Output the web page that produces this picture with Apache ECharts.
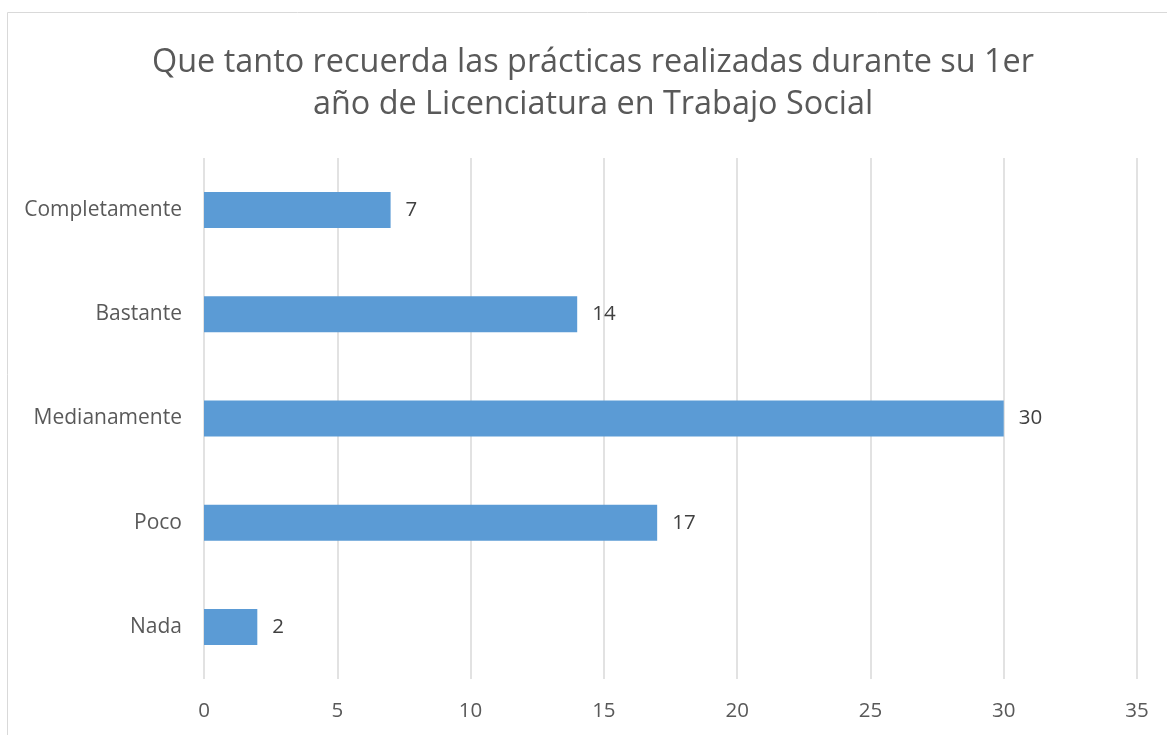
<!DOCTYPE html>
<html>
<head>
<meta charset="utf-8">
<script src="https://cdn.jsdelivr.net/npm/echarts@6/dist/echarts.min.js"></script>
<style>
html, body { margin: 0; padding: 0; background: #fff; }
#main { width: 1167px; height: 735px; }
</style>
</head>
<body>
<div id="main"></div>
<script>
// datos del gráfico
var categorias = ['Nada', 'Poco', 'Medianamente', 'Bastante', 'Completamente'];
var valores = [2, 17, 30, 14, 7];
var ticks = [0, 5, 10, 15, 20, 25, 30, 35];

var fuente = 'Open Sans';
var myChart = echarts.init(document.getElementById('main'));

myChart.setOption({
	animation: false,
	title: {
		text: 'Que tanto recuerda las prácticas realizadas durante su 1er\naño de Licenciatura en Trabajo Social',
		left: 588,
		textAlign: 'center',
		top: 37,
		textStyle: {
			fontFamily: fuente,
			fontSize: 32.4,
			fontWeight: 'normal',
			color: '#595959',
			lineHeight: 42
		}
	},
	graphic: [{
		type: 'rect',
		shape: { x: 7.5, y: 12.5, width: 1200, height: 800 },
		style: { fill: 'none', stroke: '#d9d9d9', lineWidth: 1 },
		silent: true
	}],
	grid: { left: 204, right: 30, top: 158, bottom: 56, containLabel: false },
	xAxis: {
		type: 'value',
		min: ticks[0],
		max: ticks[ticks.length - 1],
		interval: 5,
		axisLine: { show: false },
		axisTick: { show: false },
		splitLine: { lineStyle: { color: '#d9d9d9', width: 1.5 } },
		axisLabel: { fontFamily: fuente, fontSize: 20.5, color: '#595959', margin: 22 }
	},
	yAxis: {
		type: 'category',
		data: categorias,
		axisLine: { show: false },
		axisTick: { show: false },
		axisLabel: { fontFamily: fuente, fontSize: 21, color: '#595959', margin: 22 }
	},
	series: [{
		type: 'bar',
		data: valores,
		barWidth: 36,
		itemStyle: { color: '#5b9bd5' },
		label: {
			show: true,
			position: 'right',
			distance: 15,
			fontFamily: fuente,
			fontSize: 20.5,
			color: '#404040'
		}
	}]
});
</script>
</body>
</html>
